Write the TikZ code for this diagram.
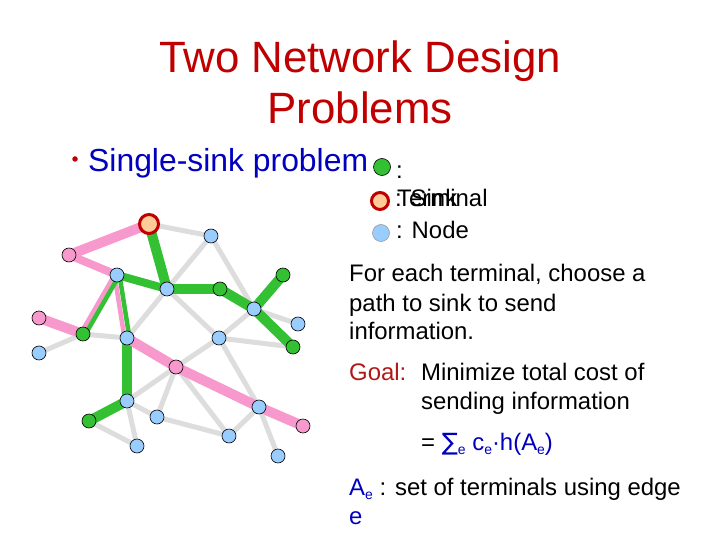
\documentclass[tikz,border=0pt]{standalone}
\usepackage{fontspec}
\setmainfont{Liberation Sans}
\newfontfamily\symfont{DejaVu Sans}
\usetikzlibrary{backgrounds}

\definecolor{titlered}{RGB}{192,0,0}
\definecolor{goalred}{RGB}{176,24,24}
\definecolor{textblue}{RGB}{0,0,190}
\definecolor{nodeblue}{RGB}{153,204,255}
\definecolor{termgreen}{RGB}{51,192,51}
\definecolor{termpink}{RGB}{247,153,204}
\definecolor{sinkfill}{RGB}{255,204,153}
\definecolor{edgegray}{RGB}{221,221,221}

\newcommand{\idx}[1]{\raisebox{-0.35ex}{\fontsize{14}{14}\selectfont #1}}

\begin{document}
\begin{tikzpicture}[x=1bp,y=-1bp,
	vnode/.style={circle,draw=black,line width=0.6bp,fill=nodeblue,inner sep=0pt,minimum size=14bp},
	gnode/.style={vnode,fill=termgreen},
	pnode/.style={vnode,fill=termpink},
	sinknode/.style={circle,draw=titlered,line width=3bp,fill=sinkfill,inner sep=0pt,minimum size=19bp},
	grayedge/.style={line width=5bp,color=edgegray},
	greenedge/.style={line width=10bp,color=termgreen},
	pinkedge/.style={line width=10bp,color=termpink},
	txt/.style={anchor=base west,inner sep=0pt,font=\fontsize{24}{28}\selectfont}]
	
	\useasboundingbox (0,0) rectangle (720,540);
	
	\node[anchor=base,inner sep=0pt,text=titlered,font=\fontsize{44}{50}\selectfont] (title1) at (360,73) {Two Network Design};
	\node[anchor=base,inner sep=0pt,text=titlered,font=\fontsize{44}{50}\selectfont] (title2) at (360,124) {Problems};
	
	\node[circle,fill=titlered,inner sep=0pt,minimum size=5.5bp] (bullet) at (75,159) {};
	\node[anchor=base west,inner sep=0pt,text=textblue,font=\fontsize{32}{38}\selectfont] (single) at (88,172) {Single-sink problem};
	
	% legend
	\node[gnode,minimum size=17bp] (keyterm) at (382,167) {};
	\node[sinknode,minimum size=17bp] (keysink) at (380,201) {};
	\node[vnode,minimum size=17bp,draw=black!40] (keynode) at (381,233) {};
	\node[txt] (termcolon) at (396,179) {:};
	\node[txt] (termtext) at (397,207) {Terminal};
	\node[txt] (sinktext) at (395,207) {: Sink};
	\node[txt] (nodetext) at (396,239) {: Node};
	
	% network
	\node[sinknode] (sink) at (149,224) {};
	\node[vnode] (v1) at (211,236) {};
	\node[pnode] (p1) at (69,255) {};
	\node[vnode] (v2) at (117,275) {};
	\node[vnode] (v3) at (167,289) {};
	\node[gnode] (g1) at (220,289) {};
	\node[gnode] (g2) at (283,275) {};
	\node[vnode] (v4) at (254,309) {};
	\node[pnode] (p2) at (39,318) {};
	\node[vnode] (v5) at (298,324) {};
	\node[gnode] (g3) at (83,334) {};
	\node[vnode] (v6) at (127,338) {};
	\node[vnode] (v7) at (219,338) {};
	\node[gnode] (g4) at (293,347) {};
	\node[vnode] (v8) at (39,353) {};
	\node[pnode] (p3) at (176,367) {};
	\node[vnode] (v9) at (127,401) {};
	\node[vnode] (v10) at (259,407) {};
	\node[vnode] (v11) at (157,417) {};
	\node[gnode] (g5) at (89,421) {};
	\node[pnode] (p4) at (303,426) {};
	\node[vnode] (v12) at (229,436) {};
	\node[vnode] (v13) at (137,446) {};
	\node[vnode] (v14) at (278,456) {};
	
	\begin{pgfonlayer}{background}
		\foreach \a/\b in {sink/v1,v1/v3,v3/v6,v1/v4,v3/v7,v7/v4,v4/v5,v7/g4,v7/p3,v7/v10,v10/v14,g3/v6,g3/v8,p3/v9,p3/v11,p3/v12,v9/v11,v11/v12,v12/v10,v9/v13,g5/v13}
		{
			\draw[grayedge] (\a.center) -- (\b.center);
		}
		\foreach \a/\b in {sink/v3,v3/g1,g1/v4,v4/g2,v4/g4,v6/v9,v9/g5}
		{
			\draw[greenedge] (\a.center) -- (\b.center);
		}
		\draw[greenedge,line width=8bp] (v3.center) -- (v2.center);
		\foreach \a/\b in {sink/p1,p2/g3,v6/p3,p3/v10,v10/p4}
		{
			\draw[pinkedge] (\a.center) -- (\b.center);
		}
		\draw[pinkedge,line width=8bp] (p1.center) -- (v2.center);
		\draw[pinkedge,line width=4.5bp] ([xshift=-2.5bp]v2.center) -- ([xshift=-2.5bp]g3.center);
		\draw[pinkedge,line width=4.5bp] ([xshift=-2.5bp]v2.center) -- ([xshift=-2.5bp]v6.center);
		\draw[greenedge,line width=4.5bp] ([xshift=2.5bp]v2.center) -- ([xshift=2.5bp]g3.center);
		\draw[greenedge,line width=4.5bp] ([xshift=2.5bp]v2.center) -- ([xshift=2.5bp]v6.center);
	\end{pgfonlayer}
	
	\node[txt] (info1) at (349,282) {For each terminal, choose a};
	\node[txt] (info2) at (349,311) {path to sink to send};
	\node[txt] (info3) at (349,339) {information.};
	\node[txt,text=goalred] (goal) at (349,380) {Goal:};
	\node[txt] (goal1) at (421,380) {Minimize total cost of};
	\node[txt] (goal2) at (421,409) {sending information};
	\node[txt] (goal3) at (421,450) {= \textcolor{textblue}{{\symfont ∑}\idx{e} c\idx{e}·h(A\idx{e})}};
	\node[txt] (aedef) at (349,495) {\textcolor{textblue}{A\idx{e}} : set of terminals using edge};
	\node[txt,text=textblue] (aelast) at (349,524) {e};
	
\end{tikzpicture}
\end{document}
